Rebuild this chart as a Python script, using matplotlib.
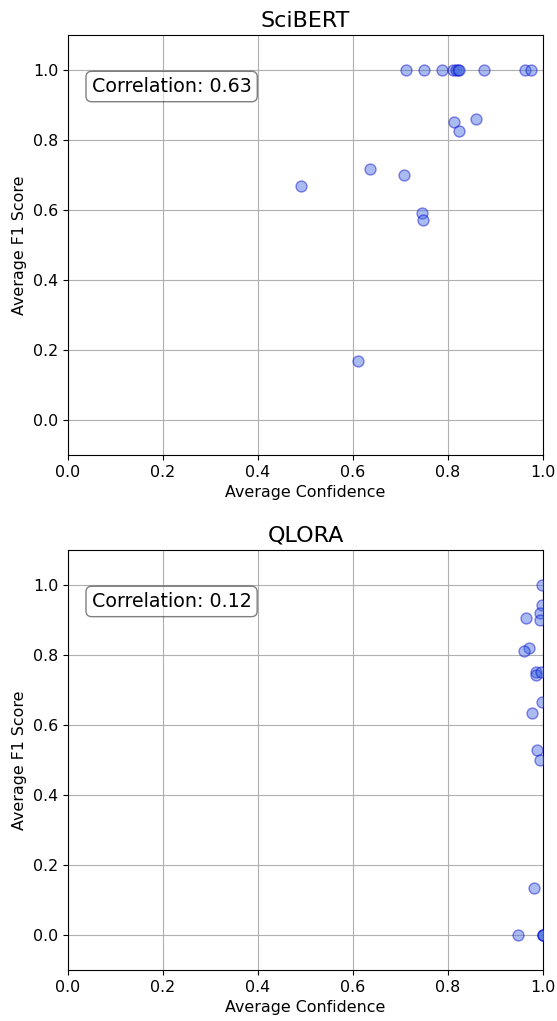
import matplotlib
matplotlib.use("Agg")
import matplotlib.pyplot as plt

# SciBERT: average confidence vs average F1 per label
scibert_conf = [0.712, 0.750, 0.788, 0.810, 0.816, 0.820, 0.824, 0.876, 0.962, 0.974,
                0.813, 0.822, 0.858, 0.635, 0.707, 0.491, 0.745, 0.748, 0.610]
scibert_f1 = [1.0, 1.0, 1.0, 1.0, 1.0, 1.0, 1.0, 1.0, 1.0, 1.0,
              0.851, 0.826, 0.859, 0.716, 0.701, 0.669, 0.592, 0.572, 0.169]

# QLORA
qlora_conf = [0.997, 0.998, 0.994, 0.964, 0.994, 0.971, 0.960, 0.985, 0.985, 0.996,
              0.998, 0.977, 0.987, 0.994, 0.980, 0.948, 0.999, 1.0, 1.0]
qlora_f1 = [1.0, 0.943, 0.919, 0.906, 0.900, 0.819, 0.811, 0.751, 0.744, 0.750,
            0.666, 0.633, 0.527, 0.500, 0.135, 0.0, 0.0, 0.0, 0.0]

models = ["SciBERT", "QLORA"]
confs = [scibert_conf, qlora_conf]
f1s = [scibert_f1, qlora_f1]
labels = ["Correlation: 0.63", "Correlation: 0.12"]

fig, axes = plt.subplots(2, 1, figsize=(5.57, 10.21), dpi=100)
fig.subplots_adjust(left=0.122, right=0.975, top=0.9657, bottom=0.05, hspace=0.226)

for ax, name, x, y, lab in zip(axes, models, confs, f1s, labels):
    ax.scatter(x, y, s=62, color='royalblue', alpha=0.45, edgecolors='mediumblue', zorder=3)
    ax.set_title(name, fontsize=16)
    ax.set_xlabel("Average Confidence", fontsize=11.4)
    ax.set_ylabel("Average F1 Score", fontsize=11.4)
    ax.tick_params(labelsize=11.4)
    ax.set_xlim(0, 1.0)
    ax.set_ylim(-0.1, 1.1)
    ax.grid(True)
    ax.text(0.05, 0.90, lab, transform=ax.transAxes, fontsize=13.7, va='top',
            bbox=dict(boxstyle='round', facecolor='white', alpha=0.5))

plt.savefig("out.png", dpi=100)
